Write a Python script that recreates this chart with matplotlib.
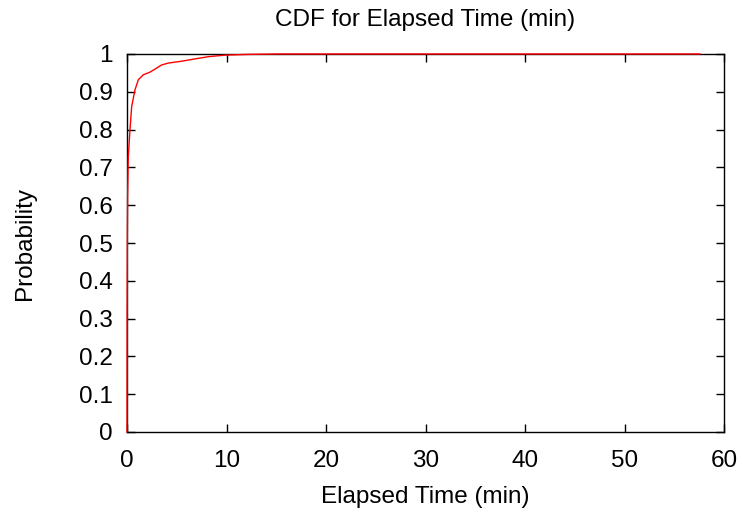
import matplotlib
matplotlib.use("Agg")
import matplotlib.pyplot as plt

plt.rcParams["font.family"] = ["Liberation Sans", "DejaVu Sans"]

# CDF curve
elapsed_min = [0.0, 0.01, 0.03, 0.06, 0.13, 0.3, 0.47, 0.8, 1.14, 1.64, 2.31,
               2.81, 3.48, 4.15, 5.5, 6.83, 8.2, 9.85, 12.2, 15.0, 57.6]
probability = [0.0, 0.3, 0.5, 0.62, 0.729, 0.80, 0.861, 0.905, 0.932, 0.945,
               0.952, 0.960, 0.971, 0.976, 0.981, 0.987, 0.993, 0.997, 0.999,
               1.0, 1.0]

x_ticks = [0, 10, 20, 30, 40, 50, 60]
y_ticks = [0, 0.1, 0.2, 0.3, 0.4, 0.5, 0.6, 0.7, 0.8, 0.9, 1]
y_labels = ["0", "0.1", "0.2", "0.3", "0.4", "0.5", "0.6", "0.7", "0.8", "0.9", "1"]

fig = plt.figure(figsize=(7.43, 5.14), dpi=100)
ax = fig.add_axes([127 / 743, 1 - 432 / 514, (724 - 127) / 743, (432 - 54) / 514])

ax.plot(elapsed_min, probability, color="red", lw=1.0, clip_on=False, zorder=3)

ax.set_xlim(0, 60)
ax.set_ylim(0, 1)
ax.set_xticks(x_ticks)
ax.set_yticks(y_ticks)
ax.set_yticklabels(y_labels)
ax.tick_params(direction="in", length=6, width=1, labelsize=17.5,
               top=True, right=True, pad=10)
ax.tick_params(axis="x", pad=13)
for s in ax.spines.values():
    s.set_linewidth(1.0)

ax.set_title("CDF for Elapsed Time (min)", fontsize=17.5, pad=20)
ax.set_xlabel("Elapsed Time (min)", fontsize=17.5, labelpad=10)
ax.set_ylabel("Probability", fontsize=17.5, labelpad=31)

fig.savefig("out.png", dpi=100)
